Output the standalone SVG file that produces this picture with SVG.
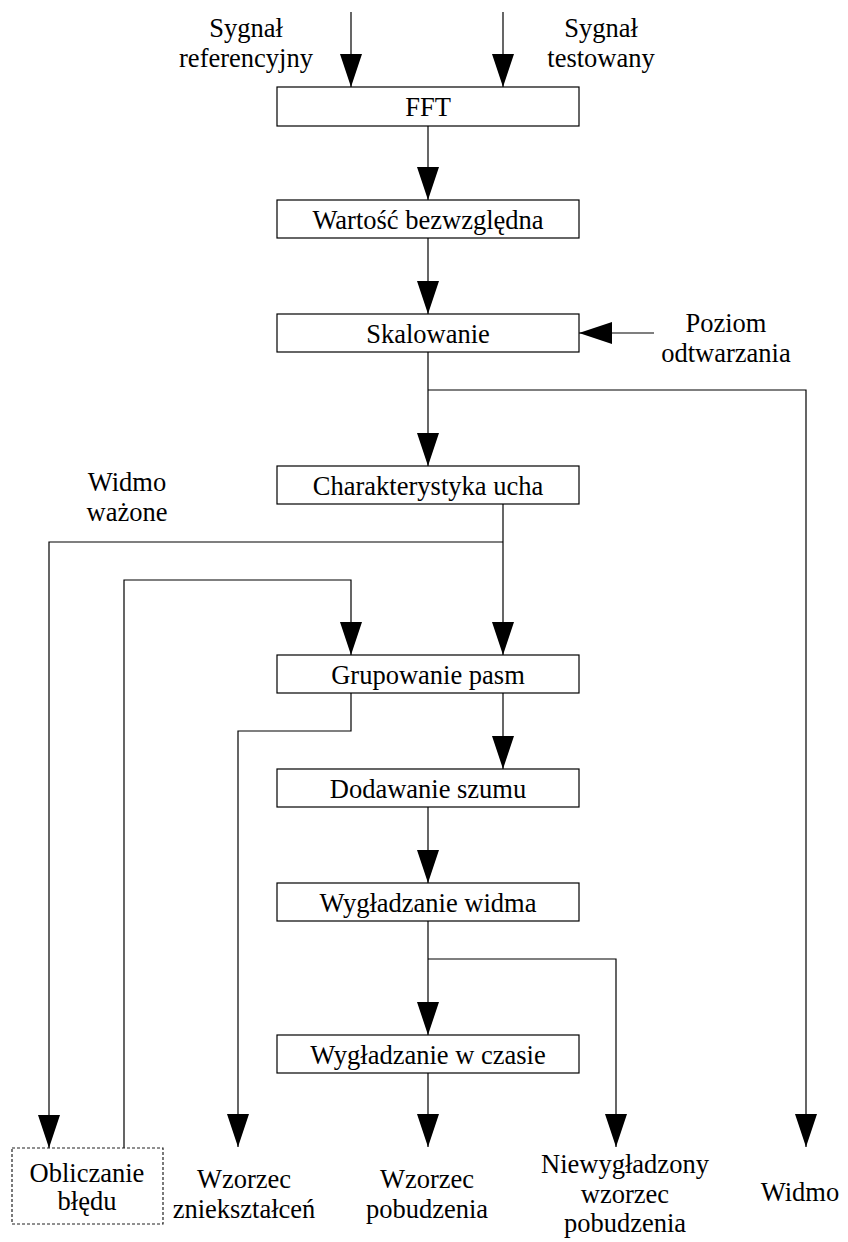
<svg xmlns="http://www.w3.org/2000/svg" width="848" height="1242" viewBox="0 0 848 1242">
  <style>
    .box { fill: #fff; stroke: #000; stroke-width: 1.2; }
    .dashed { fill: #fff; stroke: #222; stroke-width: 1.2; stroke-dasharray: 3 2; }
    .wire { fill: none; stroke: #000; stroke-width: 1.2; }
    text { font-family: "Liberation Serif", "Times New Roman", serif; font-size: 26.5px; fill: #000; text-anchor: middle; }
  </style>
  <defs>
    <marker id="arrow" markerUnits="userSpaceOnUse" markerWidth="34" markerHeight="22" refX="33" refY="11" orient="auto">
      <path d="M0,0 L33,11 L0,22 Z" fill="#000"/>
    </marker>
  </defs>

  <!-- connectors -->
  <g id="connectors" class="wire">
    <path d="M351,12 V87" marker-end="url(#arrow)"/>
    <path d="M503,12 V87" marker-end="url(#arrow)"/>
    <path d="M428,126 V200" marker-end="url(#arrow)"/>
    <path d="M428,238 V314" marker-end="url(#arrow)"/>
    <path d="M654,333 H579" marker-end="url(#arrow)"/>
    <path d="M428,352 V466" marker-end="url(#arrow)"/>
    <path d="M428,390 H806 V1147" marker-end="url(#arrow)"/>
    <path d="M503,504 V655" marker-end="url(#arrow)"/>
    <path d="M503,542 H49 V1148" marker-end="url(#arrow)"/>
    <path d="M124,1148 V580 H351 V655" marker-end="url(#arrow)"/>
    <path d="M503,693 V769" marker-end="url(#arrow)"/>
    <path d="M351,693 V731 H238 V1147" marker-end="url(#arrow)"/>
    <path d="M428,807 V883" marker-end="url(#arrow)"/>
    <path d="M428,921 V1035" marker-end="url(#arrow)"/>
    <path d="M428,959 H616 V1147" marker-end="url(#arrow)"/>
    <path d="M428,1073 V1147" marker-end="url(#arrow)"/>
  </g>

  <!-- processing blocks -->
  <g id="fft">
    <rect class="box" x="277" y="87" width="302" height="39"/>
    <text x="428" y="116">FFT</text>
  </g>
  <g id="abs">
    <rect class="box" x="277" y="200" width="302" height="38"/>
    <text x="428" y="229">Wartość bezwzględna</text>
  </g>
  <g id="scaling">
    <rect class="box" x="277" y="314" width="302" height="38"/>
    <text x="428" y="343">Skalowanie</text>
  </g>
  <g id="ear">
    <rect class="box" x="277" y="466" width="302" height="38"/>
    <text x="428" y="495">Charakterystyka ucha</text>
  </g>
  <g id="grouping">
    <rect class="box" x="277" y="655" width="302" height="38"/>
    <text x="428" y="684">Grupowanie pasm</text>
  </g>
  <g id="noise">
    <rect class="box" x="277" y="769" width="302" height="38"/>
    <text x="428" y="798">Dodawanie szumu</text>
  </g>
  <g id="spread">
    <rect class="box" x="277" y="883" width="302" height="38"/>
    <text x="428" y="912">Wygładzanie widma</text>
  </g>
  <g id="timesmooth">
    <rect class="box" x="277" y="1035" width="302" height="38"/>
    <text x="428" y="1064">Wygładzanie w czasie</text>
  </g>
  <g id="error">
    <rect class="dashed" x="12" y="1148" width="151" height="76"/>
    <text x="87" y="1182">Obliczanie</text>
    <text x="87" y="1210">błędu</text>
  </g>

  <!-- inputs and outputs -->
  <g id="in-ref">
    <text x="246" y="37">Sygnał</text>
    <text x="246" y="67">referencyjny</text>
  </g>
  <g id="in-test">
    <text x="601" y="37">Sygnał</text>
    <text x="601" y="67">testowany</text>
  </g>
  <g id="in-level">
    <text x="726" y="332">Poziom</text>
    <text x="726" y="362">odtwarzania</text>
  </g>
  <g id="weighted">
    <text x="127" y="491">Widmo</text>
    <text x="127" y="521">ważone</text>
  </g>
  <g id="out-distortion">
    <text x="244" y="1188">Wzorzec</text>
    <text x="244" y="1218">zniekształceń</text>
  </g>
  <g id="out-excitation">
    <text x="427" y="1188">Wzorzec</text>
    <text x="427" y="1218">pobudzenia</text>
  </g>
  <g id="out-unsmeared">
    <text x="625" y="1173">Niewygładzony</text>
    <text x="625" y="1203">wzorzec</text>
    <text x="625" y="1232">pobudzenia</text>
  </g>
  <g id="out-spectrum">
    <text x="800" y="1201">Widmo</text>
  </g>
</svg>
